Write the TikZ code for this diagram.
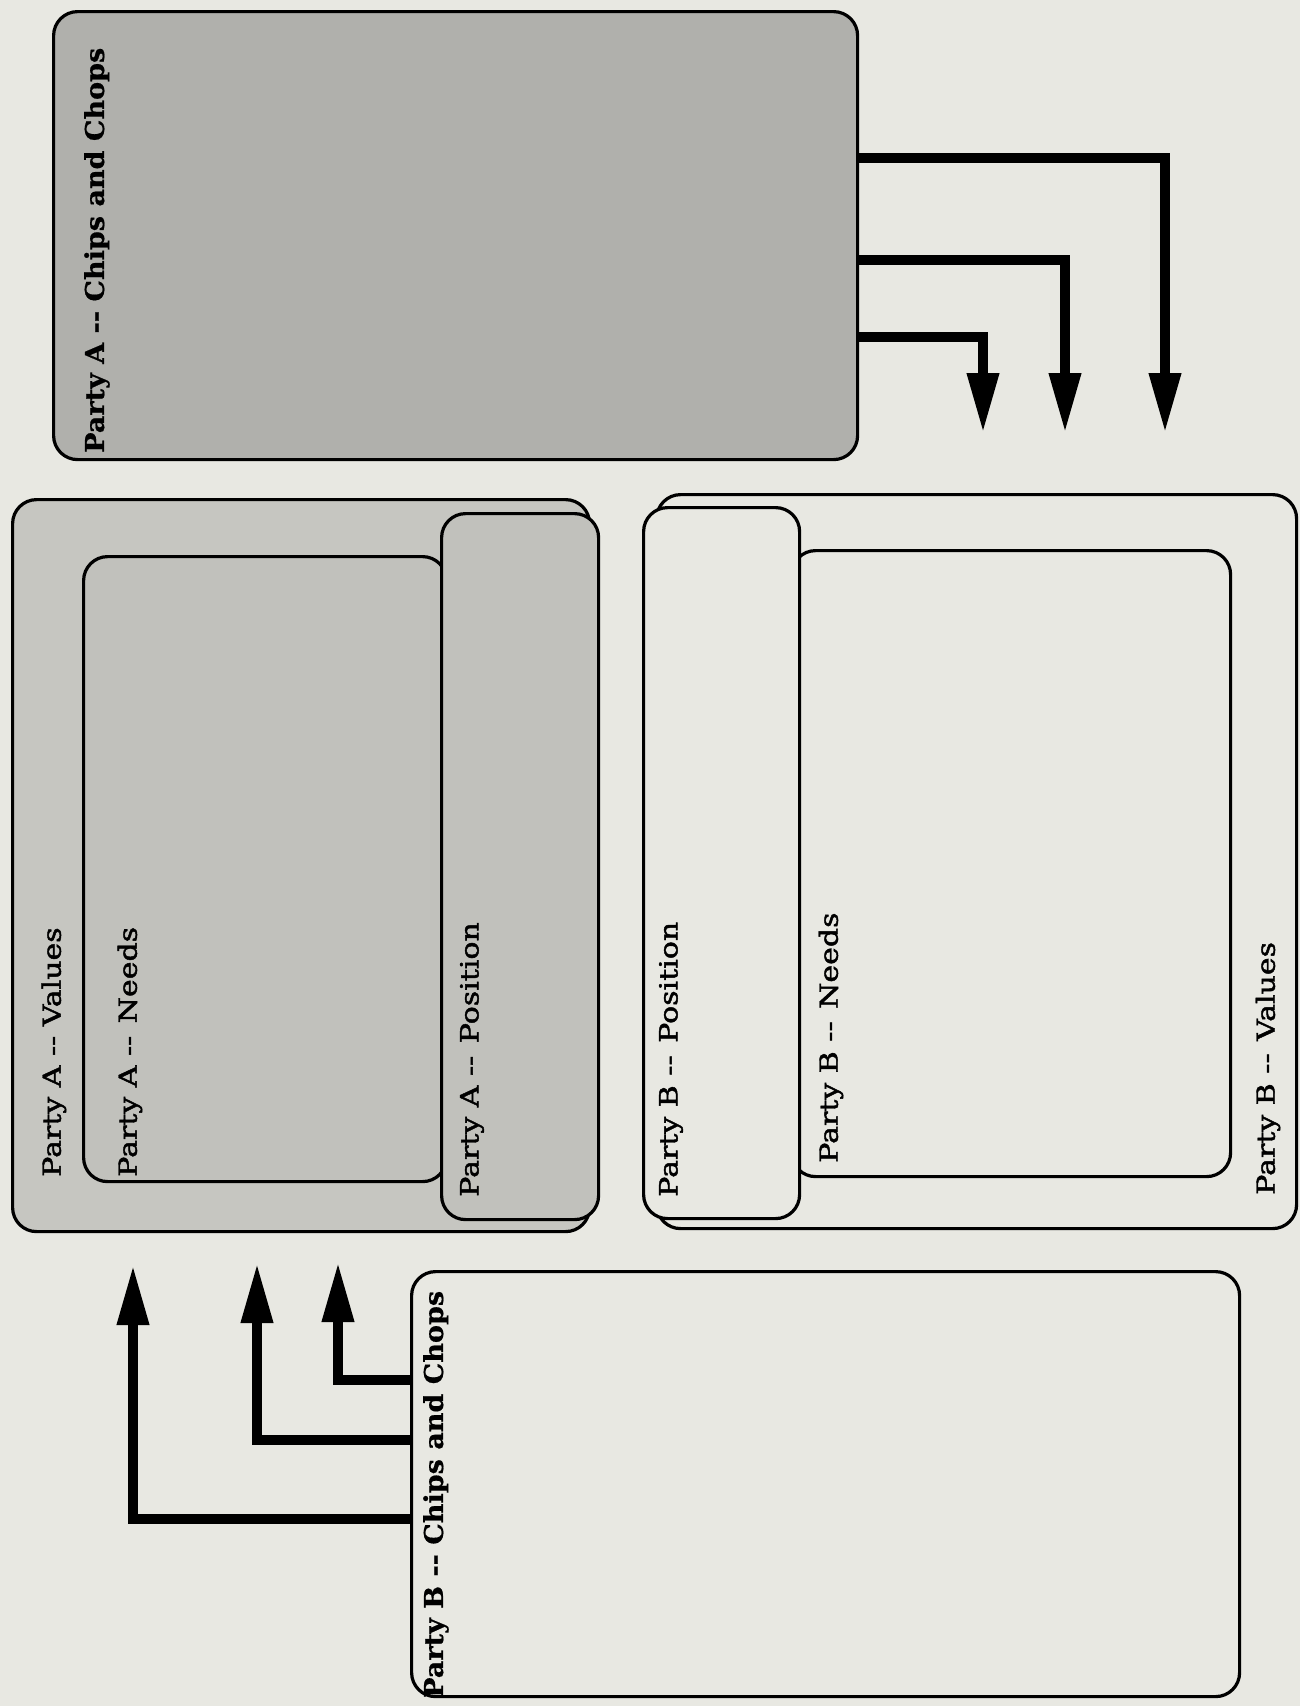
\documentclass[tikz,border=0pt]{standalone}
\usepackage{fontspec}
\setmainfont{DejaVu Serif}
\newfontfamily\lblfont[FakeStretch=1.2, FakeBold=1.8]{DejaVu Serif}
\newfontfamily\chipsfont[FakeStretch=1.04, FakeBold=0.6]{DejaVu Serif}
\usetikzlibrary{arrows.meta}
\definecolor{paper}{RGB}{232,232,226}
\definecolor{greyA}{RGB}{176,176,172}
\definecolor{greyB}{RGB}{198,198,193}
\definecolor{greyC}{RGB}{193,193,188}
\begin{document}
\begin{tikzpicture}[x=1pt,y=-1pt,
  box/.style={draw=black, line width=3.2pt, rounded corners=24pt, inner sep=0pt, anchor=north west},
  lbl/.style={rotate=90, anchor=west, inner sep=0pt, font=\lblfont\fontsize{25}{28}\selectfont},
  chipslbl/.style={rotate=90, anchor=west, inner sep=0pt, font=\chipsfont\bfseries\fontsize{26}{29}\selectfont},
  arr/.style={line width=10pt, line join=miter, -{Triangle[width=30pt,length=60pt]}}]
% background / page
\fill[paper] (0,0) rectangle (1300,1706);
\useasboundingbox (0,0) rectangle (1300,1706);

% Party A chips
\node[box, fill=greyA, minimum width=804pt, minimum height=448pt] (achips) at (52,10) {};
\node[chipslbl] (achipsl) at (97,453) {Party A -{}- Chips and Chops};

% Party A group
\node[box, fill=greyB, minimum width=577pt, minimum height=732pt] (avalues) at (11,498) {};
\node[box, fill=greyC, minimum width=363pt, minimum height=625pt] (aneeds) at (82,555) {};
\node[box, fill=greyC, minimum width=157pt, minimum height=706pt] (aposition) at (440,512) {};
\node[lbl] (avaluesl) at (54,1177) {Party A -{}- Values};
\node[lbl] (aneedsl) at (130,1177) {Party A -{}-\hspace{0.5em}Needs};
\node[lbl] (apositionl) at (472,1197) {Party A -{}-\hspace{0.5em}Position};

% Party B group
\node[box, fill=paper, minimum width=640pt, minimum height=734pt] (bvalues) at (655,493) {};
\node[box, fill=paper, minimum width=439pt, minimum height=626pt] (bneeds) at (790,549) {};
\node[box, fill=paper, minimum width=156pt, minimum height=711pt] (bposition) at (642,506) {};
\node[lbl] (bpositionl) at (671,1197) {Party B -{}-\hspace{0.5em}Position};
\node[lbl] (bneedsl) at (831,1163) {Party B -{}-\hspace{0.5em}Needs};
\node[lbl] (bvaluesl) at (1268,1195) {Party B -{}-\hspace{0.5em}Values};

% Party B chips
\node[box, fill=paper, minimum width=828pt, minimum height=425pt] (bchips) at (410,1270) {};
\node[chipslbl] (bchipsl) at (436,1698) {Party B -{}- Chips and Chops};

% arrows from A chips
\coordinate (ea1) at (1165,158); \coordinate (ta1) at (1165,433);
\coordinate (ea2) at (1065,260); \coordinate (ta2) at (1065,433);
\coordinate (ea3) at (983,337);  \coordinate (ta3) at (983,433);
\draw[arr] (achips.east |- ea1) -- (ea1) -- (ta1);
\draw[arr] (achips.east |- ea2) -- (ea2) -- (ta2);
\draw[arr] (achips.east |- ea3) -- (ea3) -- (ta3);

% arrows from B chips
\coordinate (eb1) at (133,1519); \coordinate (tb1) at (133,1265);
\coordinate (eb2) at (257,1440); \coordinate (tb2) at (257,1263);
\coordinate (eb3) at (338,1380); \coordinate (tb3) at (338,1262);
\draw[arr] (bchips.west |- eb1) -- (eb1) -- (tb1);
\draw[arr] (bchips.west |- eb2) -- (eb2) -- (tb2);
\draw[arr] (bchips.west |- eb3) -- (eb3) -- (tb3);
\end{tikzpicture}
\end{document}
